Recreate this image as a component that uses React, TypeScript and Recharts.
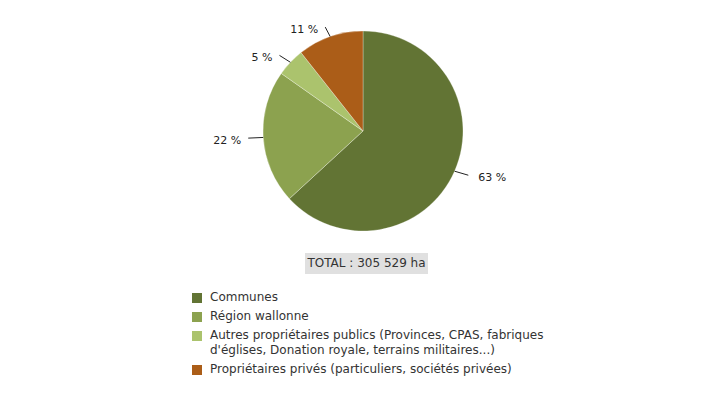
import { PieChart, Pie, Cell, Legend } from 'recharts'

const categories = [
  'Communes',
  'Région wallonne',
  "Autres propriétaires publics (Provinces, CPAS, fabriques d'églises, Donation royale, terrains militaires...)",
  'Propriétaires privés (particuliers, sociétés privées)',
]
const hectares = [193000, 66000, 14000, 32529]
const colors = ['#627434', '#8ca24f', '#abc36d', '#ab5d18']
const totalLabel = 'TOTAL : 305 529 ha'

const data = categories.map((name, i) => ({ name, value: hectares[i] }))
const total = hectares.reduce((a, b) => a + b, 0)

const RAD = Math.PI / 180

function renderLabel(props: any) {
  const { cx, cy, midAngle, outerRadius, value } = props
  const cos = Math.cos(-midAngle * RAD)
  const sin = Math.sin(-midAngle * RAD)
  const x1 = cx + outerRadius * cos
  const y1 = cy + outerRadius * sin
  const x2 = cx + (outerRadius + 15) * cos
  const y2 = cy + (outerRadius + 10) * sin
  const right = cos >= 0
  const pct = Math.round((value / total) * 100)
  return (
    <g>
      <path d={`M${x1},${y1}L${x2},${y2}`} stroke="#222" strokeWidth={1} fill="none" />
      <text
        x={x2 + (right ? 10 : -7)}
        y={y2 + 2.5}
        textAnchor={right ? 'start' : 'end'}
        dominantBaseline="central"
        fontSize={11}
        fill="#222"
        fontFamily="DejaVu Sans"
      >
        {pct} %
      </text>
    </g>
  )
}

// legend built from the data order (recharts sorts its payload by name)
function LegendContent() {
  return (
    <div style={{ fontFamily: 'DejaVu Sans', fontSize: 12, color: '#333' }}>
      <div style={{ display: 'flex', justifyContent: 'center', marginLeft: 8 }}>
        <div style={{ background: '#e0e0e0', padding: '3px 2px', lineHeight: '15px' }}>{totalLabel}</div>
      </div>
      <div style={{ marginTop: 16, marginLeft: 192, width: 360 }}>
        {data.map((d, i) => (
          <div key={d.name} style={{ display: 'flex', alignItems: 'flex-start', marginBottom: 4, lineHeight: '15px' }}>
            <span
              style={{
                width: 10,
                height: 10,
                background: colors[i],
                marginTop: 3,
                marginRight: 8,
                flexShrink: 0,
              }}
            />
            <span>{d.name}</span>
          </div>
        ))}
      </div>
    </div>
  )
}

export default function App() {
  return (
    <div style={{ position: 'absolute', left: 0, top: 0, background: '#fff' }}>
      <PieChart width={725} height={400} margin={{ top: 0, right: 0, bottom: 0, left: 0 }}>
        <Pie
          data={data}
          dataKey="value"
          nameKey="name"
          cx={363}
          cy={131}
          outerRadius={100}
          startAngle={90}
          endAngle={-270}
          stroke="#ffffff"
          strokeWidth={0.3}
          label={renderLabel}
          labelLine={false}
          isAnimationActive={false}
        >
          {data.map((d, i) => (
            <Cell key={d.name} fill={colors[i]} />
          ))}
        </Pie>
        <Legend
          content={<LegendContent />}
          wrapperStyle={{ left: 0, top: 253, width: 725 }}
        />
      </PieChart>
    </div>
  )
}
